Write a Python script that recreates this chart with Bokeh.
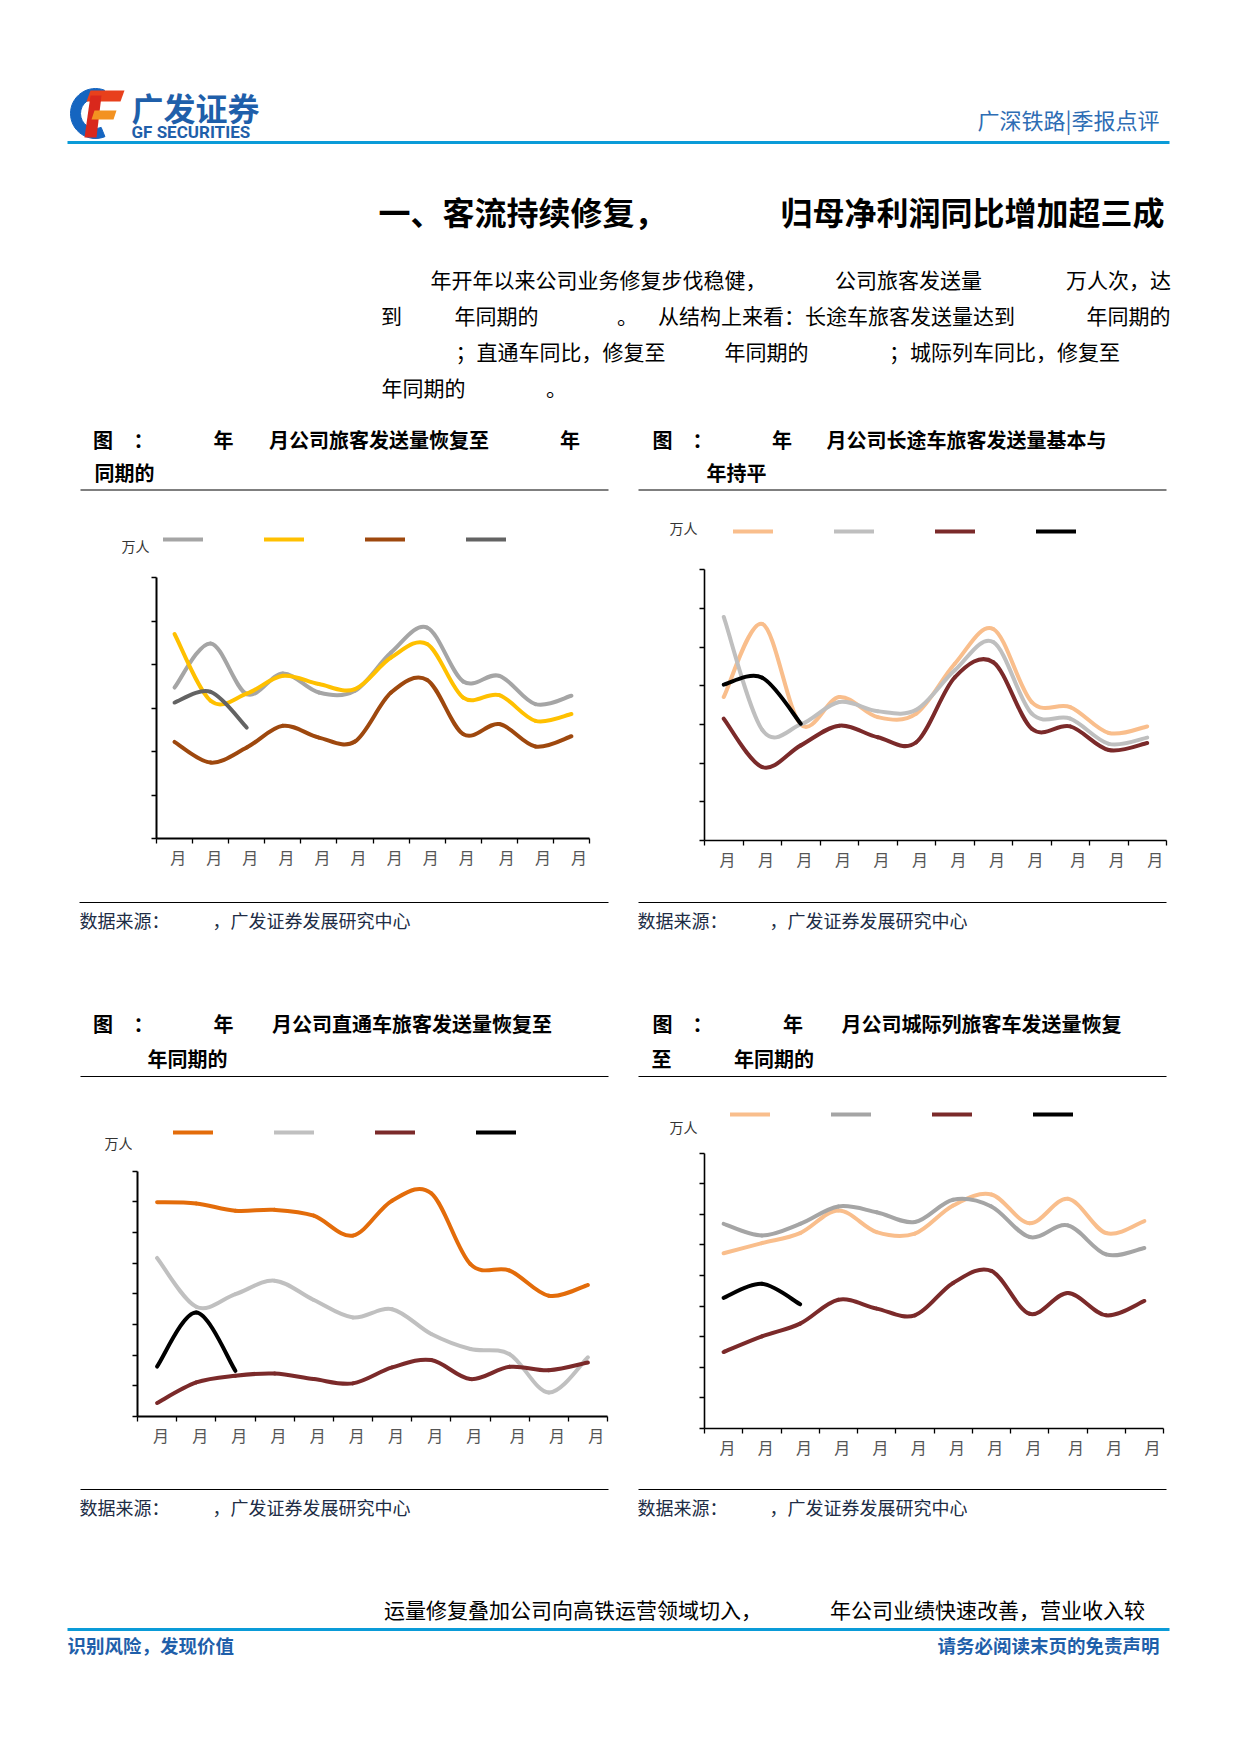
from bokeh.plotting import figure
from bokeh.models import Range1d, FixedTicker, LinearAxis, Legend, LegendItem
from bokeh.layouts import column, row
from bokeh.embed import file_html
from bokeh.resources import INLINE
from bokeh.core.properties import value

CJK = "Noto Sans CJK SC"

# ---------------- data (unit ticks unlabeled) ----------------
MONTH_LABELS = ["月"] * 12

# Figure 1: total passengers (万人)
C1_GRAY = [694, 897, 664, 759, 671, 679, 855, 970, 722, 748, 618, 656]
C1_YELLOW = [940, 633, 666, 748, 710, 687, 832, 894, 648, 659, 541, 572]
C1_BROWN = [444, 349, 418, 518, 464, 446, 671, 729, 480, 526, 423, 470]
C1_DARK = [625, 674, 510]

# Figure 2: long-distance trains
C2_PEACH = [371, 560, 300, 371, 319, 328, 457, 547, 358, 345, 278, 295]
C2_GRAY = [578, 286, 300, 358, 334, 338, 440, 513, 328, 315, 250, 266]
C2_RED = [315, 190, 246, 297, 267, 254, 422, 461, 289, 295, 234, 252]
C2_BLACK = [403, 421, 302]

# Figure 3: through trains
C3_ORANGE = [69.9, 69.5, 67.1, 67.4, 65.5, 59.0, 70.4, 72.8, 49.7, 47.6, 39.4, 42.9]
C3_GRAY = [51.7, 35.8, 39.9, 44.3, 38.0, 32.3, 35.0, 26.9, 22.0, 20.3, 7.8, 19.3]
C3_RED = [4.4, 11.1, 13.3, 14.0, 12.2, 10.8, 16.0, 18.4, 12.2, 16.2, 15.1, 17.6]
C3_BLACK = [16.3, 33.9, 14.9]

# Figure 4: intercity trains
C4_PEACH = [57.3, 60.6, 63.9, 71.3, 64.2, 63.7, 72.9, 76.5, 67.1, 75.1, 63.9, 67.8]
C4_GRAY = [66.9, 63.1, 66.9, 72.6, 70.7, 67.5, 74.8, 72.6, 62.6, 66.4, 56.9, 59.0]
C4_RED = [25.0, 30.1, 34.3, 42.1, 39.2, 37.0, 47.6, 51.5, 37.5, 44.3, 37.0, 41.7]
C4_BLACK = [42.7, 47.3, 40.6]

UNIT = "万人"

BLUE_LINE = "#0A9BD8"
BLUE_TEXT = "#1F5FAA"
SRC_COLOR = "#202C45"


# ---------------- helpers ----------------
def no_align(f):
    if "frame_align" in f.properties():
        f.frame_align = False
    return f


def page_fig(x0, x1, top, bottom):
    f = figure(width=x1 - x0, height=bottom - top, x_range=Range1d(x0, x1),
               y_range=Range1d(bottom, top), x_axis_type=None, y_axis_type=None,
               output_backend="svg", toolbar_location=None, min_border=0,
               outline_line_color=None)
    f.grid.visible = False
    return no_align(f)


def txt(f, x, y, s, size, color="#000000", bold=False, align="center", font=CJK):
    f.text(x=[x], y=[y], text=[s], text_font=value(font),
           text_font_size=f"{size}px", text_font_style="bold" if bold else "normal",
           text_color=color, text_align=align, text_baseline="middle")


def hline(f, x0, x1, y, color, width):
    f.segment(x0=[x0], y0=[y], x1=[x1], y1=[y], line_color=color, line_width=width)


def smooth(vals):
    n = len(vals)
    pts = [(i + 0.5, v) for i, v in enumerate(vals)]
    d = {k: [] for k in ("x0", "y0", "x1", "y1", "cx0", "cy0", "cx1", "cy1")}
    for i in range(n - 1):
        p0 = pts[max(i - 1, 0)]
        p1 = pts[i]
        p2 = pts[i + 1]
        p3 = pts[min(i + 2, n - 1)]
        d["x0"].append(p1[0]); d["y0"].append(p1[1])
        d["x1"].append(p2[0]); d["y1"].append(p2[1])
        d["cx0"].append(p1[0] + (p2[0] - p0[0]) / 6.0)
        d["cy0"].append(p1[1] + (p2[1] - p0[1]) / 6.0)
        d["cx1"].append(p2[0] - (p3[0] - p1[0]) / 6.0)
        d["cy1"].append(p2[1] - (p3[1] - p1[1]) / 6.0)
    return d


def chart(fig_x, fig_y, fig_w, fig_h, ax_l, ax_r, ax_t, ax_b, frame_t, nticks, step,
          series, colors, leg_x, leg_y, axis_w, label_standoff):
    mbl = round(ax_l - fig_x)
    mbr = round(fig_x + fig_w - ax_r)
    mbt = round(frame_t - fig_y)
    mbb = round(fig_y + fig_h - ax_b)
    frame_h = fig_h - mbt - mbb
    tick_px = (ax_b - ax_t) / nticks
    ymax = frame_h / tick_px * step
    p = figure(width=fig_w, height=fig_h, x_range=Range1d(0, 12), y_range=Range1d(0, ymax),
               x_axis_type=None, y_axis_type=None, output_backend="svg",
               toolbar_location=None, outline_line_color=None,
               min_border_left=mbl, min_border_right=mbr,
               min_border_top=mbt, min_border_bottom=mbb)
    no_align(p)
    p.grid.visible = False

    yt = [float(step * k) for k in range(nticks + 1)]
    yaxis = LinearAxis(ticker=FixedTicker(ticks=yt), bounds=(0, step * nticks),
                       major_label_overrides={t: "" for t in yt},
                       axis_line_color="#000000", axis_line_width=axis_w,
                       major_tick_in=0, major_tick_out=5, major_tick_line_width=1.3,
                       major_tick_line_color="#000000", minor_tick_line_color=None)
    p.add_layout(yaxis, "left")

    lab_pos = [i + 0.5 + (0.1 if i < 9 else 0.21) for i in range(12)]
    xaxis = LinearAxis(ticker=FixedTicker(ticks=lab_pos, minor_ticks=[float(i) for i in range(13)]),
                       major_label_overrides={lab_pos[i]: MONTH_LABELS[i] for i in range(12)},
                       axis_line_color="#000000", axis_line_width=axis_w,
                       major_tick_line_color=None, major_tick_in=0, major_tick_out=0,
                       minor_tick_in=0, minor_tick_out=5, minor_tick_line_width=1.3,
                       minor_tick_line_color="#000000",
                       major_label_standoff=label_standoff,
                       major_label_text_font=CJK, major_label_text_font_size="16px",
                       major_label_text_color="#555555")
    p.add_layout(xaxis, "below")

    items = []
    for vals, col in zip(series, colors):
        r = p.bezier(line_color=col, line_width=4, line_cap="round", **smooth(vals))
        items.append(LegendItem(label=value(""), renderers=[r]))

    gw, gh = 40, 12
    legend = Legend(items=items, orientation="horizontal",
                    location=(leg_x + 2 - ax_l, ax_b - (leg_y + gh / 2.0)),
                    glyph_width=gw, glyph_height=gh, label_width=61, label_height=gh,
                    label_standoff=0, spacing=0, padding=0, margin=0,
                    label_text_font_size="10px", border_line_color=None,
                    background_fill_alpha=0)
    p.add_layout(legend)
    return p


# ---------------- top section (page y 0..500) ----------------
top = page_fig(0, 1224, 0, 500)
# logo
top.annular_wedge(x=[95], y=[113], inner_radius=15, outer_radius=25,
                  start_angle=1.2, end_angle=5.1, color="#1565C0")
top.patches(xs=[[90, 124, 120, 86], [90, 101, 96, 84], [94, 116, 113, 91]],
            ys=[[90, 90, 101, 101], [95, 95, 137, 137], [110, 110, 119, 119]],
            fill_color=["#E8401C", "#D9281C", "#F39221"], line_color=None)
txt(top, 131, 106, "广发证券", 32, BLUE_TEXT, bold=True, align="left")
txt(top, 131, 131.5, "GF SECURITIES", 17, BLUE_TEXT, bold=True, align="left", font="Roboto")
txt(top, 1159, 118.5, "广深铁路|季报点评", 22, "#2E6DB4", align="right")
hline(top, 67, 1169, 142, BLUE_LINE, 3)

# heading
txt(top, 522, 210, "一、客流持续修复，", 32, bold=True)
txt(top, 972, 210, "归母净利润同比增加超三成", 32, bold=True)

# paragraph
P = 21
txt(top, 598, 278.5, "年开年以来公司业务修复步伐稳健，", P)
txt(top, 908, 278.5, "公司旅客发送量", P)
txt(top, 1118, 278.5, "万人次，达", P)
txt(top, 391, 314, "到", P)
txt(top, 496, 314, "年同期的", P)
txt(top, 627, 314, "。", P)
txt(top, 836, 314, "从结构上来看：长途车旅客发送量达到", P)
txt(top, 1128, 314, "年同期的", P)
txt(top, 560, 350, "；直通车同比，修复至", P)
txt(top, 766, 350, "年同期的", P)
txt(top, 1004, 350, "；城际列车同比，修复至", P)
txt(top, 423, 386, "年同期的", P)
txt(top, 556, 386, "。", P)

# chart titles row 1
T = 20
txt(top, 102.5, 438.5, "图", T, bold=True)
txt(top, 143, 438.5, "：", T, bold=True)
txt(top, 223, 438.5, "年", T, bold=True)
txt(top, 378.5, 438.5, "月公司旅客发送量恢复至", T, bold=True)
txt(top, 569.5, 438.5, "年", T, bold=True)
txt(top, 124, 472, "同期的", T, bold=True)
hline(top, 80, 608, 489.5, "#000000", 1.2)

txt(top, 662, 438.5, "图", T, bold=True)
txt(top, 702, 438.5, "：", T, bold=True)
txt(top, 781.5, 438.5, "年", T, bold=True)
txt(top, 966, 438.5, "月公司长途车旅客发送量基本与", T, bold=True)
txt(top, 736, 472, "年持平", T, bold=True)
hline(top, 638, 1166, 489.5, "#000000", 1.2)

# ---------------- charts row 1 (page y 500..895) ----------------
u1 = page_fig(0, 150, 500, 895)
txt(u1, 149, 545, UNIT, 14, "#333333", align="right")
c1 = chart(150, 500, 466, 395, 156, 589, 577, 838, 515, 6, 200,
           [C1_GRAY, C1_YELLOW, C1_BROWN, C1_DARK],
           ["#A5A5A5", "#FFC000", "#9E480E", "#636363"],
           161, 538.5, 2, 1)
u2 = page_fig(616, 698, 500, 895)
txt(u2, 697, 527, UNIT, 14, "#333333", align="right")
c2 = chart(698, 500, 526, 395, 704, 1166, 569.3, 840, 512, 7, 100,
           [C2_PEACH, C2_GRAY, C2_RED, C2_BLACK],
           ["#F9BE8C", "#BFBFBF", "#7B2A2A", "#000000"],
           731, 531, 1.6, 1)

# ---------------- middle section (page y 895..1100) ----------------
mid = page_fig(0, 1224, 895, 1100)
S = 18
hline(mid, 79, 608, 902, "#000000", 1)
hline(mid, 638, 1166, 902, "#000000", 1)
txt(mid, 79, 919, "数据来源：", S, SRC_COLOR, align="left")
txt(mid, 212, 919, "，广发证券发展研究中心", S, SRC_COLOR, align="left")
txt(mid, 637, 919, "数据来源：", S, SRC_COLOR, align="left")
txt(mid, 769, 919, "，广发证券发展研究中心", S, SRC_COLOR, align="left")

txt(mid, 102.5, 1023, "图", T, bold=True)
txt(mid, 143, 1023, "：", T, bold=True)
txt(mid, 223, 1023, "年", T, bold=True)
txt(mid, 411.5, 1023, "月公司直通车旅客发送量恢复至", T, bold=True)
txt(mid, 187, 1057.5, "年同期的", T, bold=True)
hline(mid, 80, 608, 1076, "#000000", 1.2)

txt(mid, 662, 1023, "图", T, bold=True)
txt(mid, 702, 1023, "：", T, bold=True)
txt(mid, 792.5, 1023, "年", T, bold=True)
txt(mid, 981, 1023, "月公司城际列旅客车发送量恢复", T, bold=True)
txt(mid, 661, 1057.5, "至", T, bold=True)
txt(mid, 773.5, 1057.5, "年同期的", T, bold=True)
hline(mid, 638, 1166, 1076, "#000000", 1.2)

# ---------------- charts row 2 (page y 1100..1480) ----------------
u3 = page_fig(0, 132, 1100, 1480)
txt(u3, 132, 1142, UNIT, 14, "#333333", align="right")
c3 = chart(132, 1100, 484, 380, 137, 607, 1170.7, 1416, 1112, 8, 10,
           [C3_ORANGE, C3_GRAY, C3_RED, C3_BLACK],
           ["#E36C0A", "#C0C0C0", "#7B2A2A", "#000000"],
           171, 1131.7, 2, 1)
u4 = page_fig(616, 698, 1100, 1480)
txt(u4, 697, 1126.5, UNIT, 14, "#333333", align="right")
c4 = chart(698, 1100, 526, 380, 704, 1163, 1152.7, 1428, 1102, 9, 10,
           [C4_PEACH, C4_GRAY, C4_RED, C4_BLACK],
           ["#F9BE8C", "#A5A5A5", "#7B2A2A", "#000000"],
           727.5, 1114, 1.6, 1)

# ---------------- bottom section (page y 1480..1738) ----------------
bot = page_fig(0, 1224, 1480, 1738)
hline(bot, 80, 608, 1489, "#000000", 1)
hline(bot, 638, 1166, 1489, "#000000", 1)
txt(bot, 79, 1506, "数据来源：", S, SRC_COLOR, align="left")
txt(bot, 212, 1506, "，广发证券发展研究中心", S, SRC_COLOR, align="left")
txt(bot, 637, 1506, "数据来源：", S, SRC_COLOR, align="left")
txt(bot, 769, 1506, "，广发证券发展研究中心", S, SRC_COLOR, align="left")

txt(bot, 572.5, 1608, "运量修复叠加公司向高铁运营领域切入，", P)
txt(bot, 987, 1608, "年公司业绩快速改善，营业收入较", P)
hline(bot, 67, 1169, 1629, BLUE_LINE, 3)
txt(bot, 67, 1644, "识别风险，发现价值", 18.5, BLUE_TEXT, bold=True, align="left")
txt(bot, 1159, 1644, "请务必阅读末页的免责声明", 18.5, BLUE_TEXT, bold=True, align="right")

layout = column(top, row(u1, c1, u2, c2), mid, row(u3, c3, u4, c4), bot)
open("out.html", "w").write(file_html(layout, INLINE))
